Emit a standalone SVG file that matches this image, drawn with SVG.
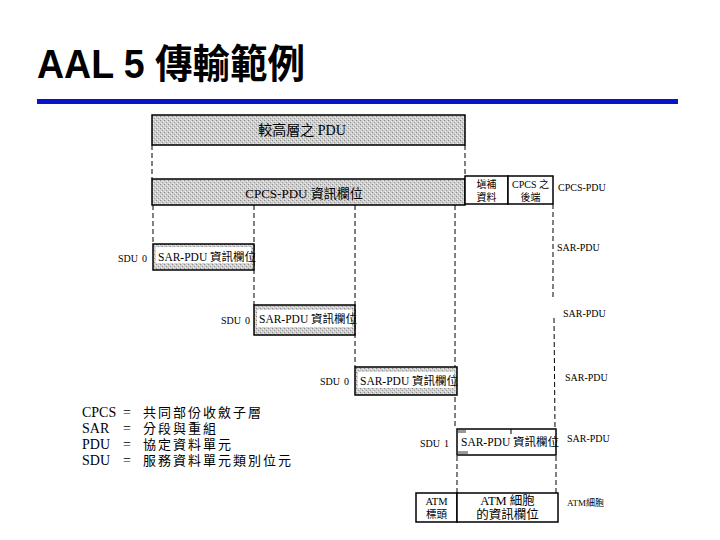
<svg xmlns="http://www.w3.org/2000/svg" width="720" height="540" viewBox="0 0 720 540">
<defs>
<pattern id="grain" width="4" height="4" patternUnits="userSpaceOnUse">
<rect width="4" height="4" fill="#cfcfcf"/>
<rect x="0" y="0" width="1" height="1" fill="#8a8a8a"/>
<rect x="2" y="2" width="1" height="1" fill="#9a9a9a"/>
<rect x="3" y="1" width="1" height="1" fill="#eeeeee"/>
<rect x="1" y="3" width="1" height="1" fill="#eeeeee"/>
</pattern>
</defs>
<style>
.t{font-family:"Liberation Serif","Noto Sans CJK TC",serif;fill:#000}
.g{fill:url(#grain);stroke:#000;stroke-width:1.5}
.w{fill:#fff;stroke:#000;stroke-width:1.5}
.d{stroke:#000;stroke-width:1;stroke-dasharray:5,3;fill:none}
.lab{font-size:10px}
.box{font-size:10px}
.leg{font-size:14px}
.legc{font-size:13px;letter-spacing:2px}
</style>
<rect width="720" height="540" fill="#fff"/>
<g id="title">
<text x="37" y="78" textLength="268" lengthAdjust="spacingAndGlyphs" style="font-family:'Liberation Sans','Noto Sans CJK TC',sans-serif;font-weight:bold;font-size:40px">AAL 5 傳輸範例</text>
<rect x="37" y="99" width="641" height="5" fill="#0a14c8"/>
</g>
<g id="connectors">
<line class="d" x1="152" y1="145" x2="152" y2="179"/>
<line class="d" x1="465" y1="145" x2="465" y2="177"/>
<line class="d" x1="153" y1="205" x2="153" y2="244"/>
<line class="d" x1="254" y1="205" x2="254" y2="305"/>
<line class="d" x1="355" y1="205" x2="355" y2="367"/>
<line class="d" x1="455" y1="205" x2="455" y2="428"/>
<line class="d" x1="553" y1="204" x2="553" y2="300"/>
<line class="d" x1="554" y1="318" x2="555" y2="428"/>
<line class="d" x1="457" y1="456" x2="457" y2="493"/>
<line class="d" x1="556" y1="456" x2="556" y2="493"/>
</g>
<g id="upper-pdu">
<rect class="g" x="152" y="115" width="313" height="30"/>
<text class="t" x="302" y="135" font-size="14" text-anchor="middle">較高層之 PDU</text>
</g>
<g id="cpcs-pdu">
<rect class="g" x="152" y="179" width="313" height="26"/>
<text class="t" x="304" y="198" font-size="13" text-anchor="middle">CPCS-PDU 資訊欄位</text>
<rect class="w" x="465" y="176" width="43" height="28"/>
<text class="t box" x="486.5" y="188" text-anchor="middle">塡補</text>
<text class="t box" x="486.5" y="201" text-anchor="middle">資料</text>
<rect class="w" x="508" y="176" width="45" height="28"/>
<text class="t box" x="530.5" y="188" text-anchor="middle">CPCS 之</text>
<text class="t box" x="530.5" y="201" text-anchor="middle">後端</text>
<text class="t lab" x="558" y="191">CPCS-PDU</text>
</g>
<g id="sar1">
<text class="t lab" x="118" y="262">SDU</text><text class="t lab" x="142" y="262">0</text>
<rect class="g" x="153" y="244" width="101" height="26"/>
<rect x="156" y="247" width="95" height="16" fill="#fff"/>
<text class="t" x="158" y="261" font-size="11.5">SAR-PDU 資訊欄位</text>
<text class="t lab" x="557" y="251">SAR-PDU</text>
</g>
<g id="sar2">
<text class="t lab" x="221" y="324">SDU</text><text class="t lab" x="245" y="324">0</text>
<rect class="g" x="254" y="305" width="101" height="30"/>
<rect x="257" y="310" width="95" height="17" fill="#fff"/>
<text class="t" x="259" y="323" font-size="11.5">SAR-PDU 資訊欄位</text>
<text class="t lab" x="563" y="317">SAR-PDU</text>
</g>
<g id="sar3">
<text class="t lab" x="320" y="385">SDU</text><text class="t lab" x="344" y="385">0</text>
<rect class="g" x="355" y="367" width="102" height="28"/>
<rect x="358" y="372" width="96" height="16" fill="#fff"/>
<text class="t" x="360" y="385" font-size="11.5">SAR-PDU 資訊欄位</text>
<text class="t lab" x="565" y="381">SAR-PDU</text>
</g>
<g id="sar4">
<text class="t lab" x="420" y="447">SDU</text><text class="t lab" x="444" y="447">1</text>
<rect class="w" x="457" y="429" width="99" height="26"/>
<rect x="458" y="430" width="8" height="3" fill="#999"/>
<rect x="458" y="451" width="10" height="3" fill="#999"/>
<line x1="511" y1="429" x2="511" y2="434" stroke="#000" stroke-width="1"/>
<text class="t" x="461" y="446" font-size="11.5">SAR-PDU 資訊欄位</text>
<text class="t lab" x="567" y="442">SAR-PDU</text>
</g>
<g id="atm-cell">
<rect class="w" x="416" y="493" width="41" height="29"/>
<text class="t" x="436.5" y="505" font-size="10.5" text-anchor="middle">ATM</text>
<text class="t" x="436.5" y="518" font-size="10.5" text-anchor="middle">標頭</text>
<rect class="w" x="457" y="493" width="101" height="29"/>
<text class="t" x="507.5" y="505" font-size="12.5" text-anchor="middle">ATM 細胞</text>
<text class="t" x="507.5" y="519" font-size="12.5" text-anchor="middle">的資訊欄位</text>
<text class="t" x="567" y="506" font-size="9">ATM細胞</text>
</g>
<g id="legend">
<text class="t leg" x="82" y="417">CPCS</text><text class="t leg" x="123" y="417">=</text><text class="t legc" x="143" y="417">共同部份收斂子層</text>
<text class="t leg" x="82" y="433">SAR</text><text class="t leg" x="123" y="433">=</text><text class="t legc" x="143" y="433">分段與重組</text>
<text class="t leg" x="82" y="449">PDU</text><text class="t leg" x="123" y="449">=</text><text class="t legc" x="143" y="449">協定資料單元</text>
<text class="t leg" x="82" y="465">SDU</text><text class="t leg" x="123" y="465">=</text><text class="t legc" x="143" y="465">服務資料單元類別位元</text>
</g>
</svg>
